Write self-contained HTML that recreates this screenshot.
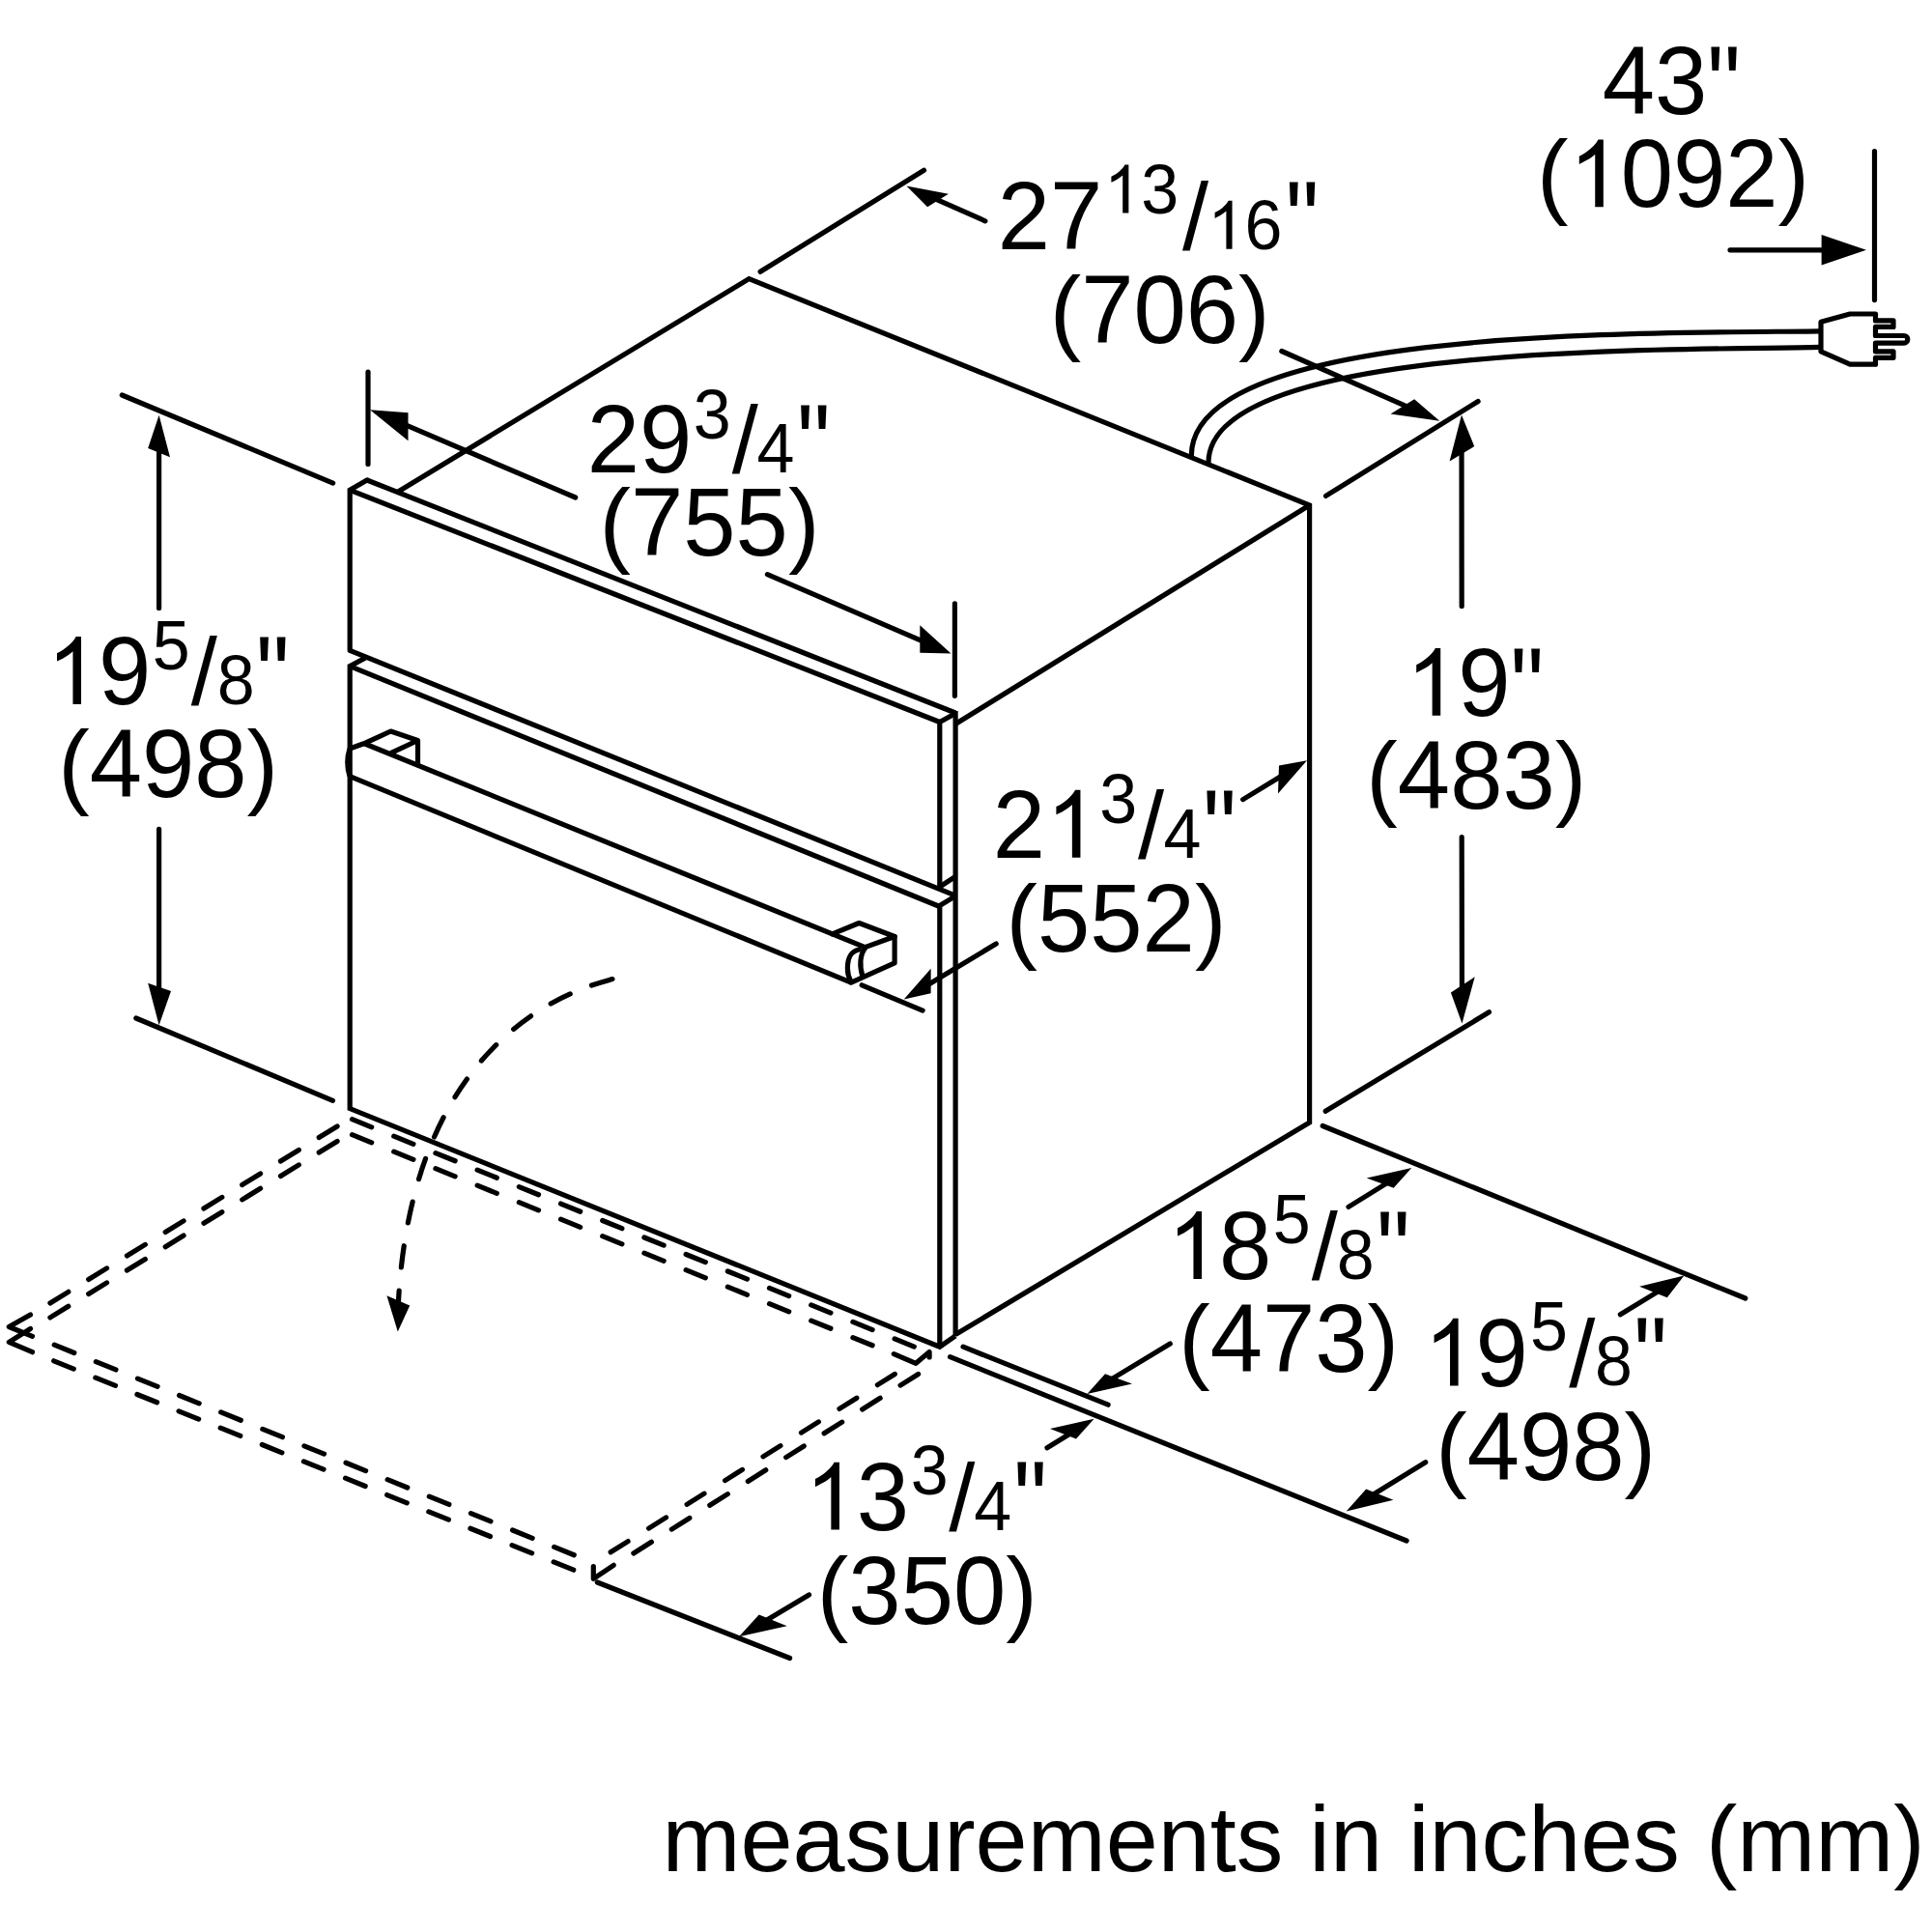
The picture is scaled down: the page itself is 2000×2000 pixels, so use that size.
<!DOCTYPE html>
<html><head><meta charset="utf-8"><style>
html,body{margin:0;padding:0;background:#fff;overflow:hidden;width:2000px;height:2000px;}
svg{display:block;}
text{font-family:"Liberation Sans",sans-serif;fill:#000;stroke:none;}
</style></head><body>
<svg width="2000" height="2000" viewBox="0 0 2000 2000">
<rect width="2000" height="2000" fill="#fff"/>
<g stroke="#000" fill="none">
<polyline points="362.2,673.3 362.2,507.3 379.9,497" fill="none" stroke-linecap="round" stroke-linejoin="miter" stroke-width="5.2"/>
<line x1="379.9" y1="497" x2="989.1" y2="738" stroke-linecap="butt" stroke-width="5.2"/>
<line x1="362.2" y1="507.3" x2="972.8" y2="747.5" stroke-linecap="butt" stroke-width="5.2"/>
<polyline points="972.8,918.8 972.8,747.5 989.1,738.5" fill="none" stroke-linecap="butt" stroke-linejoin="miter" stroke-width="5.2"/>
<line x1="989.1" y1="736" x2="989.1" y2="1383" stroke-linecap="butt" stroke-width="5.2"/>
<line x1="362.2" y1="673.3" x2="989.1" y2="927.1" stroke-linecap="butt" stroke-width="5.2"/>
<line x1="972.8" y1="918" x2="989.1" y2="907.4" stroke-linecap="butt" stroke-width="5.2"/>
<polyline points="379.7,680.3 362.2,689.6 362.2,1147.6 972.8,1394.2 989.1,1382.8" fill="none" stroke-linecap="butt" stroke-linejoin="miter" stroke-width="5.2"/>
<line x1="362.2" y1="689.6" x2="972.8" y2="938.5" stroke-linecap="butt" stroke-width="5.2"/>
<polyline points="989.1,927.6 972.8,937.5 972.8,1394.2" fill="none" stroke-linecap="butt" stroke-linejoin="miter" stroke-width="5.2"/>
<polyline points="989.1,1381.5 1355.6,1162 1355.6,523 775.4,288.6 411.3,509.5" fill="none" stroke-linecap="butt" stroke-linejoin="miter" stroke-width="5.2"/>
<line x1="989.1" y1="749.5" x2="1355.6" y2="523" stroke-linecap="butt" stroke-width="5.2"/>
<path d="M362,775 Q357.5,789 362,803.5" fill="none" stroke-width="5.2" stroke-linecap="butt" />
<polyline points="362,775 376.6,769.8 404.5,757 432.5,766.5 432.5,791.5" fill="none" stroke-linecap="butt" stroke-linejoin="round" stroke-width="5.2"/>
<line x1="404.5" y1="779.7" x2="432.5" y2="766.5" stroke-linecap="butt" stroke-width="5.2"/>
<line x1="376.6" y1="769.5" x2="896.1" y2="980.9" stroke-linecap="butt" stroke-width="5.2"/>
<line x1="362.1" y1="803.7" x2="881.1" y2="1017.1" stroke-linecap="butt" stroke-width="5.2"/>
<polyline points="861.6,966.9 889.3,955.5 926.1,969.5 896.1,980.4" fill="none" stroke-linecap="round" stroke-linejoin="round" stroke-width="5.2"/>
<polyline points="926.1,969.5 926.1,996.9 881.1,1017.1" fill="none" stroke-linecap="round" stroke-linejoin="round" stroke-width="5.2"/>
<path d="M896.1,980.9 C890,988 889.5,1000 893,1011" fill="none" stroke-width="5.2" stroke-linecap="butt" />
<path d="M889.3,983 C880,985 877.5,992 877.4,1002 C877.3,1008 878.5,1012 881,1016.5" fill="none" stroke-width="5.2" stroke-linecap="round" />
<path d="M1233.3,472 C1233.3,338.4 1698.8,345.2 1884,342.8" fill="none" stroke-width="5.2" stroke-linecap="butt" />
<path d="M1251,479 C1251,352.9 1746.8,363.1 1884,359.4" fill="none" stroke-width="5.2" stroke-linecap="butt" />
<path d="M1885,333.3 L1915.1,325 L1941.5,325 L1941.5,331.9 L1960,331.9 L1960,338.4 L1941.5,338.4 L1941.5,347.5 L1971,347.5 A3.8,3.8 0 0 1 1971,355.1 L1941.5,355.1 L1941.5,363.8 L1960,363.8 L1960,370.3 L1941.5,370.3 L1941.5,377.2 L1915.1,377.2 L1885,363.8 Z" fill="none" stroke-width="5.2" stroke-linecap="butt" stroke-linejoin="round"/>
<line x1="1940.5" y1="156.6" x2="1940.5" y2="310.6" stroke-linecap="round" stroke-width="5.2"/>
<line x1="1791" y1="258.8" x2="1891.24" y2="258.8" stroke-linecap="round" stroke-width="5.2"/>
<polygon points="1932,258.8 1885.6,243 1885.6,274.5" fill="#000" stroke="none"/>
<line x1="787.1" y1="281.3" x2="956.5" y2="176.3" stroke-linecap="round" stroke-width="5.2"/>
<line x1="1019.9" y1="228.8" x2="968.13" y2="205.81" stroke-linecap="round" stroke-width="5.2"/>
<polygon points="938.4,192.6 960.1,214.3 981.9,200.7" fill="#000" stroke="none"/>
<line x1="1372.5" y1="513.4" x2="1530.1" y2="415.5" stroke-linecap="round" stroke-width="5.2"/>
<line x1="1326.8" y1="363.5" x2="1460.43" y2="422.51" stroke-linecap="round" stroke-width="5.2"/>
<polygon points="1490.3,435.7 1439.6,428.6 1464.1,413.2" fill="#000" stroke="none"/>
<line x1="381" y1="385.2" x2="381" y2="480.4" stroke-linecap="round" stroke-width="5.2"/>
<line x1="988.4" y1="624.8" x2="988.4" y2="720.3" stroke-linecap="round" stroke-width="5.2"/>
<line x1="595.7" y1="515" x2="413.99" y2="437.43" stroke-linecap="round" stroke-width="5.2"/>
<polygon points="383,424.2 422.5,427.2 422.5,456.3" fill="#000" stroke="none"/>
<line x1="794.4" y1="594.6" x2="959.9" y2="665.9" stroke-linecap="round" stroke-width="5.2"/>
<polygon points="984.5,676.5 952.3,647.2 952.3,675.8" fill="#000" stroke="none"/>
<line x1="126.3" y1="409" x2="344.7" y2="500.1" stroke-linecap="round" stroke-width="5.2"/>
<line x1="140.8" y1="1054" x2="344.5" y2="1139.3" stroke-linecap="round" stroke-width="5.2"/>
<line x1="164.6" y1="629.5" x2="164.6" y2="460.56" stroke-linecap="round" stroke-width="5.2"/>
<polygon points="164.6,429.7 153.2,463.9 176,473.2" fill="#000" stroke="none"/>
<line x1="164.6" y1="858.4" x2="164.6" y2="1029.84" stroke-linecap="round" stroke-width="5.2"/>
<polygon points="164.6,1061.3 153.2,1017.8 177,1026" fill="#000" stroke="none"/>
<line x1="1372.2" y1="1150.3" x2="1541.5" y2="1047.8" stroke-linecap="round" stroke-width="5.2"/>
<line x1="1513.2" y1="627.5" x2="1513.03" y2="462.15" stroke-linecap="round" stroke-width="5.2"/>
<polygon points="1513,429.5 1500.6,477.6 1526.2,462.1" fill="#000" stroke="none"/>
<line x1="1513.2" y1="866.6" x2="1513.45" y2="1027.73" stroke-linecap="round" stroke-width="5.2"/>
<polygon points="1513.5,1059.5 1501.9,1027.6 1526.7,1011.3" fill="#000" stroke="none"/>
<line x1="892.2" y1="1019.8" x2="955.1" y2="1046.1" stroke-linecap="round" stroke-width="5.2"/>
<line x1="1286.7" y1="827.6" x2="1326.21" y2="803.58" stroke-linecap="round" stroke-width="5.2"/>
<polygon points="1353,787.3 1323,821.4 1324,792.4" fill="#000" stroke="none"/>
<line x1="1031.2" y1="977" x2="959.78" y2="1020" stroke-linecap="round" stroke-width="5.2"/>
<polygon points="935.7,1034.5 963.6,1002.7 963.6,1028.3" fill="#000" stroke="none"/>
<line x1="1369.2" y1="1165.5" x2="1806.8" y2="1344" stroke-linecap="round" stroke-width="5.2"/>
<line x1="997" y1="1394.2" x2="1147.1" y2="1454.2" stroke-linecap="round" stroke-width="5.2"/>
<line x1="1396" y1="1249.4" x2="1435.99" y2="1224.66" stroke-linecap="round" stroke-width="5.2"/>
<polygon points="1461.3,1209 1414.7,1219.4 1442.7,1229.7" fill="#000" stroke="none"/>
<line x1="1211.3" y1="1391.1" x2="1150.33" y2="1427.87" stroke-linecap="round" stroke-width="5.2"/>
<polygon points="1125.4,1442.9 1144,1422.2 1172,1432.5" fill="#000" stroke="none"/>
<line x1="983.5" y1="1404.6" x2="1456.1" y2="1595" stroke-linecap="round" stroke-width="5.2"/>
<line x1="1677.4" y1="1360.8" x2="1716.58" y2="1336.88" stroke-linecap="round" stroke-width="5.2"/>
<polygon points="1743.4,1320.5 1697.1,1331.8 1725.8,1343.2" fill="#000" stroke="none"/>
<line x1="1475.7" y1="1513.7" x2="1420.93" y2="1547.57" stroke-linecap="round" stroke-width="5.2"/>
<polygon points="1393.7,1564.4 1414.2,1541.6 1442.4,1552.7" fill="#000" stroke="none"/>
<line x1="618.3" y1="1638" x2="817.6" y2="1716.5" stroke-linecap="round" stroke-width="5.2"/>
<line x1="1084" y1="1498.8" x2="1106.81" y2="1484.68" stroke-linecap="round" stroke-width="5.2"/>
<polygon points="1132.6,1468.7 1087,1479 1114,1489.4" fill="#000" stroke="none"/>
<line x1="837.5" y1="1650.9" x2="793.12" y2="1677.47" stroke-linecap="round" stroke-width="5.2"/>
<polygon points="765,1694.3 785.7,1671.6 814.7,1683.2" fill="#000" stroke="none"/>
<line x1="364.51" y1="1158.66" x2="384.69" y2="1166.82" stroke-linecap="round" stroke-width="5.2"/>
<line x1="407.71" y1="1176.14" x2="427.89" y2="1184.3" stroke-linecap="round" stroke-width="5.2"/>
<line x1="450.91" y1="1193.62" x2="471.09" y2="1201.78" stroke-linecap="round" stroke-width="5.2"/>
<line x1="494.11" y1="1211.09" x2="514.29" y2="1219.26" stroke-linecap="round" stroke-width="5.2"/>
<line x1="537.31" y1="1228.57" x2="557.49" y2="1236.74" stroke-linecap="round" stroke-width="5.2"/>
<line x1="580.51" y1="1246.05" x2="600.69" y2="1254.22" stroke-linecap="round" stroke-width="5.2"/>
<line x1="623.71" y1="1263.53" x2="643.89" y2="1271.7" stroke-linecap="round" stroke-width="5.2"/>
<line x1="666.91" y1="1281.01" x2="687.09" y2="1289.17" stroke-linecap="round" stroke-width="5.2"/>
<line x1="710.11" y1="1298.49" x2="730.29" y2="1306.65" stroke-linecap="round" stroke-width="5.2"/>
<line x1="753.31" y1="1315.97" x2="773.49" y2="1324.13" stroke-linecap="round" stroke-width="5.2"/>
<line x1="796.51" y1="1333.45" x2="816.69" y2="1341.61" stroke-linecap="round" stroke-width="5.2"/>
<line x1="839.71" y1="1350.92" x2="859.89" y2="1359.09" stroke-linecap="round" stroke-width="5.2"/>
<line x1="882.91" y1="1368.4" x2="903.09" y2="1376.57" stroke-linecap="round" stroke-width="5.2"/>
<line x1="926.11" y1="1385.88" x2="946.29" y2="1394.05" stroke-linecap="round" stroke-width="5.2"/>
<line x1="364.51" y1="1174.65" x2="384.69" y2="1182.83" stroke-linecap="round" stroke-width="5.2"/>
<line x1="407.71" y1="1192.15" x2="427.89" y2="1200.32" stroke-linecap="round" stroke-width="5.2"/>
<line x1="450.91" y1="1209.65" x2="471.09" y2="1217.82" stroke-linecap="round" stroke-width="5.2"/>
<line x1="494.11" y1="1227.14" x2="514.29" y2="1235.32" stroke-linecap="round" stroke-width="5.2"/>
<line x1="537.31" y1="1244.64" x2="557.49" y2="1252.81" stroke-linecap="round" stroke-width="5.2"/>
<line x1="580.51" y1="1262.13" x2="600.69" y2="1270.31" stroke-linecap="round" stroke-width="5.2"/>
<line x1="623.71" y1="1279.63" x2="643.89" y2="1287.8" stroke-linecap="round" stroke-width="5.2"/>
<line x1="666.91" y1="1297.13" x2="687.09" y2="1305.3" stroke-linecap="round" stroke-width="5.2"/>
<line x1="710.11" y1="1314.62" x2="730.29" y2="1322.8" stroke-linecap="round" stroke-width="5.2"/>
<line x1="753.31" y1="1332.12" x2="773.49" y2="1340.29" stroke-linecap="round" stroke-width="5.2"/>
<line x1="796.51" y1="1349.61" x2="816.69" y2="1357.79" stroke-linecap="round" stroke-width="5.2"/>
<line x1="839.71" y1="1367.11" x2="859.89" y2="1375.28" stroke-linecap="round" stroke-width="5.2"/>
<line x1="882.91" y1="1384.61" x2="903.09" y2="1392.78" stroke-linecap="round" stroke-width="5.2"/>
<polyline points="925.3,1401.6 948.1,1411.3 962.1,1399.6 962.1,1405" fill="none" stroke-linecap="round" stroke-linejoin="round" stroke-width="5.2"/>
<line x1="56.21" y1="1392.19" x2="76.79" y2="1400.51" stroke-linecap="round" stroke-width="5.2"/>
<line x1="99.33" y1="1409.63" x2="119.91" y2="1417.95" stroke-linecap="round" stroke-width="5.2"/>
<line x1="142.45" y1="1427.07" x2="163.03" y2="1435.39" stroke-linecap="round" stroke-width="5.2"/>
<line x1="185.57" y1="1444.5" x2="206.15" y2="1452.83" stroke-linecap="round" stroke-width="5.2"/>
<line x1="228.69" y1="1461.94" x2="249.27" y2="1470.26" stroke-linecap="round" stroke-width="5.2"/>
<line x1="271.81" y1="1479.38" x2="292.39" y2="1487.7" stroke-linecap="round" stroke-width="5.2"/>
<line x1="314.93" y1="1496.82" x2="335.51" y2="1505.14" stroke-linecap="round" stroke-width="5.2"/>
<line x1="358.05" y1="1514.25" x2="378.63" y2="1522.58" stroke-linecap="round" stroke-width="5.2"/>
<line x1="401.17" y1="1531.69" x2="421.75" y2="1540.01" stroke-linecap="round" stroke-width="5.2"/>
<line x1="444.29" y1="1549.13" x2="464.87" y2="1557.45" stroke-linecap="round" stroke-width="5.2"/>
<line x1="487.41" y1="1566.57" x2="507.99" y2="1574.89" stroke-linecap="round" stroke-width="5.2"/>
<line x1="530.53" y1="1584" x2="551.11" y2="1592.33" stroke-linecap="round" stroke-width="5.2"/>
<line x1="573.65" y1="1601.44" x2="594.23" y2="1609.76" stroke-linecap="round" stroke-width="5.2"/>
<line x1="55.71" y1="1408.81" x2="76.29" y2="1417.09" stroke-linecap="round" stroke-width="5.2"/>
<line x1="98.83" y1="1426.16" x2="119.41" y2="1434.43" stroke-linecap="round" stroke-width="5.2"/>
<line x1="141.95" y1="1443.5" x2="162.53" y2="1451.77" stroke-linecap="round" stroke-width="5.2"/>
<line x1="185.07" y1="1460.84" x2="205.65" y2="1469.12" stroke-linecap="round" stroke-width="5.2"/>
<line x1="228.19" y1="1478.18" x2="248.77" y2="1486.46" stroke-linecap="round" stroke-width="5.2"/>
<line x1="271.31" y1="1495.53" x2="291.89" y2="1503.8" stroke-linecap="round" stroke-width="5.2"/>
<line x1="314.43" y1="1512.87" x2="335.01" y2="1521.15" stroke-linecap="round" stroke-width="5.2"/>
<line x1="357.55" y1="1530.21" x2="378.13" y2="1538.49" stroke-linecap="round" stroke-width="5.2"/>
<line x1="400.67" y1="1547.56" x2="421.25" y2="1555.83" stroke-linecap="round" stroke-width="5.2"/>
<line x1="443.79" y1="1564.9" x2="464.37" y2="1573.17" stroke-linecap="round" stroke-width="5.2"/>
<line x1="486.91" y1="1582.24" x2="507.49" y2="1590.52" stroke-linecap="round" stroke-width="5.2"/>
<line x1="530.03" y1="1599.58" x2="550.61" y2="1607.86" stroke-linecap="round" stroke-width="5.2"/>
<line x1="573.15" y1="1616.93" x2="593.73" y2="1625.2" stroke-linecap="round" stroke-width="5.2"/>
<polyline points="31.5,1361 9.3,1373.5 33.5,1383.3" fill="none" stroke-linecap="round" stroke-linejoin="round" stroke-width="5.2"/>
<polyline points="31.5,1375.5 9.3,1389.4 33.5,1399.7" fill="none" stroke-linecap="round" stroke-linejoin="round" stroke-width="5.2"/>
<line x1="51.91" y1="1348.96" x2="70.79" y2="1337.34" stroke-linecap="round" stroke-width="5.2"/>
<line x1="91.67" y1="1324.48" x2="110.55" y2="1312.86" stroke-linecap="round" stroke-width="5.2"/>
<line x1="131.43" y1="1300" x2="150.31" y2="1288.37" stroke-linecap="round" stroke-width="5.2"/>
<line x1="171.19" y1="1275.51" x2="190.07" y2="1263.89" stroke-linecap="round" stroke-width="5.2"/>
<line x1="210.95" y1="1251.03" x2="229.83" y2="1239.41" stroke-linecap="round" stroke-width="5.2"/>
<line x1="250.71" y1="1226.54" x2="269.59" y2="1214.92" stroke-linecap="round" stroke-width="5.2"/>
<line x1="290.47" y1="1202.06" x2="309.35" y2="1190.44" stroke-linecap="round" stroke-width="5.2"/>
<line x1="330.23" y1="1177.58" x2="349.11" y2="1165.95" stroke-linecap="round" stroke-width="5.2"/>
<line x1="51.92" y1="1363.9" x2="70.78" y2="1352.31" stroke-linecap="round" stroke-width="5.2"/>
<line x1="91.68" y1="1339.49" x2="110.54" y2="1327.9" stroke-linecap="round" stroke-width="5.2"/>
<line x1="131.44" y1="1315.08" x2="150.3" y2="1303.49" stroke-linecap="round" stroke-width="5.2"/>
<line x1="171.2" y1="1290.67" x2="190.06" y2="1279.09" stroke-linecap="round" stroke-width="5.2"/>
<line x1="210.96" y1="1266.26" x2="229.82" y2="1254.68" stroke-linecap="round" stroke-width="5.2"/>
<line x1="250.72" y1="1241.85" x2="269.58" y2="1230.27" stroke-linecap="round" stroke-width="5.2"/>
<line x1="290.48" y1="1217.44" x2="309.34" y2="1205.86" stroke-linecap="round" stroke-width="5.2"/>
<line x1="330.24" y1="1193.03" x2="349.1" y2="1181.45" stroke-linecap="round" stroke-width="5.2"/>
<line x1="908.4" y1="1433.66" x2="926.3" y2="1422.44" stroke-linecap="round" stroke-width="5.2"/>
<line x1="868.94" y1="1458.4" x2="886.84" y2="1447.18" stroke-linecap="round" stroke-width="5.2"/>
<line x1="829.48" y1="1483.13" x2="847.38" y2="1471.92" stroke-linecap="round" stroke-width="5.2"/>
<line x1="790.02" y1="1507.87" x2="807.92" y2="1496.65" stroke-linecap="round" stroke-width="5.2"/>
<line x1="750.56" y1="1532.61" x2="768.46" y2="1521.39" stroke-linecap="round" stroke-width="5.2"/>
<line x1="711.1" y1="1557.35" x2="729" y2="1546.13" stroke-linecap="round" stroke-width="5.2"/>
<line x1="671.64" y1="1582.08" x2="689.54" y2="1570.87" stroke-linecap="round" stroke-width="5.2"/>
<line x1="632.18" y1="1606.82" x2="650.08" y2="1595.6" stroke-linecap="round" stroke-width="5.2"/>
<line x1="932.1" y1="1434.12" x2="950.6" y2="1422.48" stroke-linecap="round" stroke-width="5.2"/>
<line x1="892.64" y1="1458.95" x2="911.14" y2="1447.31" stroke-linecap="round" stroke-width="5.2"/>
<line x1="853.18" y1="1483.79" x2="871.68" y2="1472.14" stroke-linecap="round" stroke-width="5.2"/>
<line x1="813.72" y1="1508.62" x2="832.22" y2="1496.98" stroke-linecap="round" stroke-width="5.2"/>
<line x1="774.26" y1="1533.45" x2="792.76" y2="1521.81" stroke-linecap="round" stroke-width="5.2"/>
<line x1="734.8" y1="1558.28" x2="753.3" y2="1546.64" stroke-linecap="round" stroke-width="5.2"/>
<line x1="695.34" y1="1583.11" x2="713.84" y2="1571.47" stroke-linecap="round" stroke-width="5.2"/>
<line x1="655.88" y1="1607.95" x2="674.38" y2="1596.3" stroke-linecap="round" stroke-width="5.2"/>
<polyline points="635.2,1620.3 614.3,1634.3 614.3,1621.5" fill="none" stroke-linecap="round" stroke-linejoin="round" stroke-width="5.2"/>
<path d="M636.5,1012.7 C625.909,1017.718 427.799,1047.988 412.3,1350" fill="none" stroke-width="5.2" stroke-linecap="round" stroke-dasharray="22.4 24.2" stroke-dashoffset="43.8"/>
<polygon points="411.8,1378.5 400.4,1341.2 424.2,1351.6" fill="#000" stroke="none"/>
<text transform="translate(1658.76,117.8) scale(1,1.02)" font-size="97.6">4</text>
<text transform="translate(1713.04,117.8) scale(1,1.02)" font-size="97.6">3</text>
<text transform="translate(1767.32,125.6) scale(1,1.15)" font-size="97.6">&quot;</text>
<text transform="translate(1590.95,214.3) scale(1,1.0)" font-size="97.6">(</text>
<path transform="translate(1623.45,214.3) scale(0.04766,-0.04766)" d="M763,0 L583,0 L583,1147 C540,1106 483,1064 413,1023 C343,982 285,951 238,931 L238,1105 C335,1152 420,1209 494,1276 C568,1343 620,1407 650,1466 L763,1466 Z" fill="#000" stroke="none"/>
<text transform="translate(1677.73,214.3) scale(1,1.02)" font-size="97.6">0</text>
<text transform="translate(1732.01,214.3) scale(1,1.02)" font-size="97.6">9</text>
<text transform="translate(1786.29,214.3) scale(1,1.02)" font-size="97.6">2</text>
<text transform="translate(1840.57,214.3) scale(1,1.0)" font-size="97.6">)</text>
<text transform="translate(1032.79,257.8) scale(1,1.02)" font-size="97.6">2</text>
<text transform="translate(1087.07,257.8) scale(1,1.02)" font-size="97.6">7</text>
<path transform="translate(1142.27,220.6) scale(0.03418,-0.03418)" d="M763,0 L583,0 L583,1147 C540,1106 483,1064 413,1023 C343,982 285,951 238,931 L238,1105 C335,1152 420,1209 494,1276 C568,1343 620,1407 650,1466 L763,1466 Z" fill="#000" stroke="none"/>
<text transform="translate(1181.2,220.6) scale(1,1.02)" font-size="70">3</text>
<text transform="translate(1224,257.8) scale(1,1.0)" font-size="97.6">/</text>
<path transform="translate(1249.47,257.8) scale(0.03418,-0.03418)" d="M763,0 L583,0 L583,1147 C540,1106 483,1064 413,1023 C343,982 285,951 238,931 L238,1105 C335,1152 420,1209 494,1276 C568,1343 620,1407 650,1466 L763,1466 Z" fill="#000" stroke="none"/>
<text transform="translate(1288.4,257.8) scale(1,1.02)" font-size="70">6</text>
<text transform="translate(1330.75,265.6) scale(1,1.15)" font-size="97.6">&quot;</text>
<text transform="translate(1086.65,354.7) scale(1,1.0)" font-size="97.6">(</text>
<text transform="translate(1119.15,354.7) scale(1,1.02)" font-size="97.6">7</text>
<text transform="translate(1173.43,354.7) scale(1,1.02)" font-size="97.6">0</text>
<text transform="translate(1227.71,354.7) scale(1,1.02)" font-size="97.6">6</text>
<text transform="translate(1281.99,354.7) scale(1,1.0)" font-size="97.6">)</text>
<text transform="translate(607.69,489.3) scale(1,1.02)" font-size="97.6">2</text>
<text transform="translate(661.97,489.3) scale(1,1.02)" font-size="97.6">9</text>
<text transform="translate(717.83,453.6) scale(1,1.02)" font-size="70">3</text>
<text transform="translate(757.8,489.3) scale(1,1.0)" font-size="97.6">/</text>
<text transform="translate(783.39,489.3) scale(1,1.02)" font-size="70">4</text>
<text transform="translate(825.05,497.1) scale(1,1.15)" font-size="97.6">&quot;</text>
<text transform="translate(620.55,574.7) scale(1,1.0)" font-size="97.6">(</text>
<text transform="translate(653.05,574.7) scale(1,1.02)" font-size="97.6">7</text>
<text transform="translate(707.33,574.7) scale(1,1.02)" font-size="97.6">5</text>
<text transform="translate(761.61,574.7) scale(1,1.02)" font-size="97.6">5</text>
<text transform="translate(815.89,574.7) scale(1,1.0)" font-size="97.6">)</text>
<path transform="translate(47.66,728.9) scale(0.04766,-0.04766)" d="M763,0 L583,0 L583,1147 C540,1106 483,1064 413,1023 C343,982 285,951 238,931 L238,1105 C335,1152 420,1209 494,1276 C568,1343 620,1407 650,1466 L763,1466 Z" fill="#000" stroke="none"/>
<text transform="translate(101.94,728.9) scale(1,1.02)" font-size="97.6">9</text>
<text transform="translate(157.7,693) scale(1,1.02)" font-size="70">5</text>
<text transform="translate(197.7,728.9) scale(1,1.0)" font-size="97.6">/</text>
<text transform="translate(224.66,729.2) scale(1,1.02)" font-size="70">8</text>
<text transform="translate(265.05,736.7) scale(1,1.15)" font-size="97.6">&quot;</text>
<text transform="translate(60.25,825.3) scale(1,1.0)" font-size="97.6">(</text>
<text transform="translate(92.75,825.3) scale(1,1.02)" font-size="97.6">4</text>
<text transform="translate(147.03,825.3) scale(1,1.02)" font-size="97.6">9</text>
<text transform="translate(201.31,825.3) scale(1,1.02)" font-size="97.6">8</text>
<text transform="translate(255.59,825.3) scale(1,1.0)" font-size="97.6">)</text>
<path transform="translate(1454.86,740.8) scale(0.04766,-0.04766)" d="M763,0 L583,0 L583,1147 C540,1106 483,1064 413,1023 C343,982 285,951 238,931 L238,1105 C335,1152 420,1209 494,1276 C568,1343 620,1407 650,1466 L763,1466 Z" fill="#000" stroke="none"/>
<text transform="translate(1509.14,740.8) scale(1,1.02)" font-size="97.6">9</text>
<text transform="translate(1563.42,748.6) scale(1,1.15)" font-size="97.6">&quot;</text>
<text transform="translate(1414.35,837.1) scale(1,1.0)" font-size="97.6">(</text>
<text transform="translate(1446.85,837.1) scale(1,1.02)" font-size="97.6">4</text>
<text transform="translate(1501.13,837.1) scale(1,1.02)" font-size="97.6">8</text>
<text transform="translate(1555.41,837.1) scale(1,1.02)" font-size="97.6">3</text>
<text transform="translate(1609.69,837.1) scale(1,1.0)" font-size="97.6">)</text>
<text transform="translate(1027.79,887.7) scale(1,1.02)" font-size="97.6">2</text>
<path transform="translate(1082.07,887.7) scale(0.04766,-0.04766)" d="M763,0 L583,0 L583,1147 C540,1106 483,1064 413,1023 C343,982 285,951 238,931 L238,1105 C335,1152 420,1209 494,1276 C568,1343 620,1407 650,1466 L763,1466 Z" fill="#000" stroke="none"/>
<text transform="translate(1138.13,851.8) scale(1,1.02)" font-size="70">3</text>
<text transform="translate(1178,887.7) scale(1,1.0)" font-size="97.6">/</text>
<text transform="translate(1204.39,887.7) scale(1,1.02)" font-size="70">4</text>
<text transform="translate(1245.35,895.5) scale(1,1.15)" font-size="97.6">&quot;</text>
<text transform="translate(1041.55,985) scale(1,1.0)" font-size="97.6">(</text>
<text transform="translate(1074.05,985) scale(1,1.02)" font-size="97.6">5</text>
<text transform="translate(1128.33,985) scale(1,1.02)" font-size="97.6">5</text>
<text transform="translate(1182.61,985) scale(1,1.02)" font-size="97.6">2</text>
<text transform="translate(1236.89,985) scale(1,1.0)" font-size="97.6">)</text>
<path transform="translate(1207.66,1323.9) scale(0.04766,-0.04766)" d="M763,0 L583,0 L583,1147 C540,1106 483,1064 413,1023 C343,982 285,951 238,931 L238,1105 C335,1152 420,1209 494,1276 C568,1343 620,1407 650,1466 L763,1466 Z" fill="#000" stroke="none"/>
<text transform="translate(1261.94,1323.9) scale(1,1.02)" font-size="97.6">8</text>
<text transform="translate(1317.7,1287) scale(1,1.02)" font-size="70">5</text>
<text transform="translate(1357.8,1323.9) scale(1,1.0)" font-size="97.6">/</text>
<text transform="translate(1383.66,1324.3) scale(1,1.02)" font-size="70">8</text>
<text transform="translate(1425.05,1331.7) scale(1,1.15)" font-size="97.6">&quot;</text>
<text transform="translate(1220.25,1420.2) scale(1,1.0)" font-size="97.6">(</text>
<text transform="translate(1252.75,1420.2) scale(1,1.02)" font-size="97.6">4</text>
<text transform="translate(1307.03,1420.2) scale(1,1.02)" font-size="97.6">7</text>
<text transform="translate(1361.31,1420.2) scale(1,1.02)" font-size="97.6">3</text>
<text transform="translate(1415.59,1420.2) scale(1,1.0)" font-size="97.6">)</text>
<path transform="translate(1473.26,1434.6) scale(0.04766,-0.04766)" d="M763,0 L583,0 L583,1147 C540,1106 483,1064 413,1023 C343,982 285,951 238,931 L238,1105 C335,1152 420,1209 494,1276 C568,1343 620,1407 650,1466 L763,1466 Z" fill="#000" stroke="none"/>
<text transform="translate(1527.54,1434.6) scale(1,1.02)" font-size="97.6">9</text>
<text transform="translate(1584,1397.6) scale(1,1.02)" font-size="70">5</text>
<text transform="translate(1624.3,1434.6) scale(1,1.0)" font-size="97.6">/</text>
<text transform="translate(1650.96,1433.9) scale(1,1.02)" font-size="70">8</text>
<text transform="translate(1691.35,1442.4) scale(1,1.15)" font-size="97.6">&quot;</text>
<text transform="translate(1486.25,1531.6) scale(1,1.0)" font-size="97.6">(</text>
<text transform="translate(1518.75,1531.6) scale(1,1.02)" font-size="97.6">4</text>
<text transform="translate(1573.03,1531.6) scale(1,1.02)" font-size="97.6">9</text>
<text transform="translate(1627.31,1531.6) scale(1,1.02)" font-size="97.6">8</text>
<text transform="translate(1681.59,1531.6) scale(1,1.0)" font-size="97.6">)</text>
<path transform="translate(832.56,1583.6) scale(0.04766,-0.04766)" d="M763,0 L583,0 L583,1147 C540,1106 483,1064 413,1023 C343,982 285,951 238,931 L238,1105 C335,1152 420,1209 494,1276 C568,1343 620,1407 650,1466 L763,1466 Z" fill="#000" stroke="none"/>
<text transform="translate(886.84,1583.6) scale(1,1.02)" font-size="97.6">3</text>
<text transform="translate(942.73,1546.7) scale(1,1.02)" font-size="70">3</text>
<text transform="translate(982.3,1583.6) scale(1,1.0)" font-size="97.6">/</text>
<text transform="translate(1008.29,1583.6) scale(1,1.02)" font-size="70">4</text>
<text transform="translate(1049.15,1591.4) scale(1,1.15)" font-size="97.6">&quot;</text>
<text transform="translate(845.85,1680.5) scale(1,1.0)" font-size="97.6">(</text>
<text transform="translate(878.35,1680.5) scale(1,1.02)" font-size="97.6">3</text>
<text transform="translate(932.63,1680.5) scale(1,1.02)" font-size="97.6">5</text>
<text transform="translate(986.91,1680.5) scale(1,1.02)" font-size="97.6">0</text>
<text transform="translate(1041.19,1680.5) scale(1,1.0)" font-size="97.6">)</text>
<text transform="translate(685.55,1936.9)" font-size="97.2">measurements in inches (mm)</text>
</g>
</svg>
</body></html>
